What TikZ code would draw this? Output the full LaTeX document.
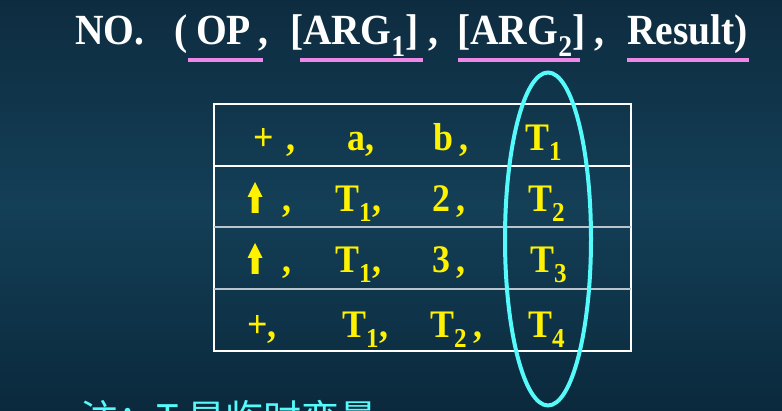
\documentclass[tikz,border=0pt]{standalone}
\usepackage{fontspec}
\setmainfont{Liberation Serif}
\newfontfamily\slidefont[FakeStretch=0.92]{Liberation Serif}
\newfontfamily\cjk{Noto Sans CJK SC}
\usepackage{tikz}
\usetikzlibrary{shapes.geometric}
\definecolor{bgtop}{RGB}{14,44,64}
\definecolor{bgmid}{RGB}{19,63,87}
\definecolor{bgbot}{RGB}{11,41,60}
\definecolor{ringcyan}{RGB}{85,250,250}
\definecolor{ulpink}{RGB}{238,136,232}
\definecolor{rowgray}{RGB}{185,196,204}
\begin{document}
\begin{tikzpicture}[x=1pt,y=-1pt,
titletxt/.style={anchor=base west,inner sep=0,text=white,font=\slidefont\fontsize{43}{46}\selectfont\bfseries},
celltxt/.style={anchor=base west,inner sep=0,text=yellow,font=\slidefont\fontsize{39}{42}\selectfont\bfseries},
uline/.style={draw=ulpink,line width=3.5pt},
rowline/.style={line width=2pt}]
\clip (0,0) rectangle (782,411);
\shade[top color=bgtop,bottom color=bgbot,middle color=bgmid] (0,0) rectangle (782,411);
% title
\node at (75,45)[titletxt](no){NO.};
\node at (174,45)[titletxt](lpar){(};
\node at (196,45)[titletxt](op){OP};
\node at (258,45)[titletxt](c1){,};
\node at (290,45)[titletxt](arg1){[ARG\textsubscript{1}]};
\node at (428,45)[titletxt](c2){,};
\node at (457,45)[titletxt](arg2){[ARG\textsubscript{2}]};
\node at (594,45)[titletxt](c3){,};
\node at (627,45)[titletxt](res){Result)};
\draw[uline] (188,60) -- (263,60);
\draw[uline] (300,60) -- (423,60);
\draw[uline] (458,60) -- (580,60);
\draw[uline] (627,60) -- (749,60);
% table
\node at (422.5,227.5)[rectangle,draw=white,line width=2.5pt,minimum width=417,minimum height=247,inner sep=0,outer sep=0](tab){};
\draw[rowline,white] (tab.west |- 0,166) -- (tab.east |- 0,166);
\draw[rowline,rowgray] (tab.west |- 0,227) -- (tab.east |- 0,227);
\draw[rowline,rowgray] (tab.west |- 0,289) -- (tab.east |- 0,289);
% row 1
\node at (253,151)[celltxt](op1){+\,\,,};
\node at (347,151)[celltxt](a1){a,};
\node at (433,151)[celltxt](b1){b\,,};
\node at (525,151)[celltxt](r1){T\textsubscript{1}};
% row 2
\fill[yellow] (255,182) -- (262.5,197) -- (258.5,197) -- (258.5,213) -- (251.5,213) -- (251.5,197) -- (247.5,197) -- cycle;
\node at (282,212)[celltxt](op2){,};
\node at (335,212)[celltxt](a2){T\textsubscript{1},};
\node at (432,212)[celltxt](b2){2\,,};
\node at (528,212)[celltxt](r2){T\textsubscript{2}};
% row 3
\fill[yellow] (255,243) -- (262.5,258) -- (258.5,258) -- (258.5,274) -- (251.5,274) -- (251.5,258) -- (247.5,258) -- cycle;
\node at (282,273)[celltxt](op3){,};
\node at (335,273)[celltxt](a3){T\textsubscript{1},};
\node at (432,273)[celltxt](b3){3\,,};
\node at (530,273)[celltxt](r3){T\textsubscript{3}};
% row 4
\node at (247,338)[celltxt](op4){+,};
\node at (342,338)[celltxt](a4){T\textsubscript{1},};
\node at (430,338)[celltxt](b4){T\textsubscript{2}\,,};
\node at (528,338)[celltxt](r4){T\textsubscript{4}};
% result column ring
\node at (548,239)[ellipse,draw=ringcyan,line width=4pt,minimum width=86,minimum height=333,inner sep=0](ring){};
% note
\node at (80,432)[anchor=base west,inner sep=0,text=ringcyan,font=\cjk\fontsize{38}{40}\selectfont](note){注：T 是临时变量};
\end{tikzpicture}
\end{document}
